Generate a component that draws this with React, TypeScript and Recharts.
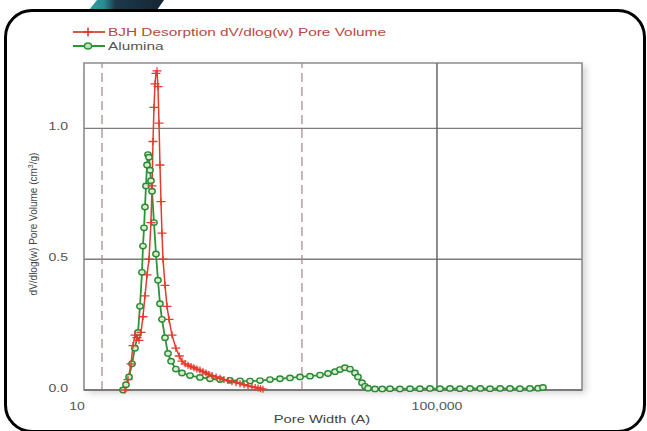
import { LineChart, Line, XAxis, YAxis, ReferenceLine, ReferenceArea } from "recharts";

// pore width (A) and dV/dlog(w) pore volume (cm3/g)
const bjhWidth = [
    29.2, 31.5, 34.1, 35.9, 37.8, 39.9, 42.0, 44.2, 46.6, 49.1, 51.8, 54.5, 57.4, 59.0, 60.5,
    62.1, 63.8, 65.4, 67.2, 68.9, 70.8, 72.6, 74.6, 76.5, 78.6, 82.8, 87.2, 91.9, 99.4, 110,
    120, 129, 140, 151, 163, 176, 190, 206, 223, 241, 260, 282, 314, 348, 385, 428, 475, 528,
    586, 650, 722, 801, 870, 937, 1000, 1067
];
const bjhVolume = [
    0, 0.04, 0.1, 0.17, 0.21, 0.2, 0.19, 0.22, 0.28, 0.36, 0.44, 0.5, 0.64, 0.78, 0.95,
    1.08, 1.17, 1.21, 1.22, 1.16, 1.02, 0.86, 0.72, 0.6, 0.5, 0.4, 0.32, 0.27, 0.21, 0.16,
    0.13, 0.11, 0.1, 0.095, 0.09, 0.085, 0.08, 0.076, 0.07, 0.065, 0.06, 0.055, 0.05, 0.045,
    0.04, 0.036, 0.032, 0.028, 0.024, 0.02, 0.016, 0.013, 0.01, 0.008, 0.005, 0.003
];

const aluminaWidth = [
    27.7, 29.9, 32.4, 35.0, 37.8, 40.9, 43.1, 45.4, 46.6, 47.9, 49.1, 50.4, 51.8, 53.1, 54.5,
    56.0, 57.4, 59.0, 62.1, 65.4, 68.9, 72.6, 76.5, 82.8, 89.5, 97.0, 110, 129, 159, 206,
    268, 348, 451, 586, 760, 987, 1281, 1663, 2160, 2803, 3638, 4723, 5823, 6988, 7960,
    9070, 10330, 11770, 12730, 14130, 15280, 16530, 19840, 24000, 29340, 38000, 49440, 64000, 83300, 108000,
    140400, 182000, 236600, 310000, 398700, 520000, 671900, 870000, 1130000, 1400000, 1589000
];
const aluminaVolume = [
    0, 0.02, 0.05, 0.1, 0.16, 0.22, 0.32, 0.45, 0.55, 0.62, 0.7, 0.78, 0.86, 0.9, 0.89,
    0.84, 0.8, 0.76, 0.64, 0.52, 0.42, 0.33, 0.27, 0.2, 0.14, 0.11, 0.08, 0.065, 0.055, 0.048,
    0.043, 0.04, 0.037, 0.035, 0.034, 0.036, 0.04, 0.043, 0.046, 0.05, 0.053, 0.057, 0.063, 0.07, 0.078,
    0.085, 0.08, 0.065, 0.05, 0.028, 0.014, 0.007, 0.004, 0.004, 0.005, 0.004, 0.005, 0.005, 0.006, 0.005,
    0.006, 0.005, 0.006, 0.006, 0.005, 0.006, 0.006, 0.005, 0.006, 0.007, 0.01
];

const xTicks = [10, 100000];
const yTicks = [0, 0.5, 1.0];
const dashedWidths = [16, 2950];
const solidWidths = [100000];
const yGrid = [0.5, 1.0];

const X_DOMAIN = [10, 4400000];
const Y_DOMAIN = [0, 1.25];

const RED = "#e53b2e";
const GREEN = "#2e9438";
const FONT = "'Liberation Sans', Arial, sans-serif";
const STRETCH = 1.28;

const bjhData = bjhWidth.map((x, i) => ({ x, y: bjhVolume[i] }));
const aluminaData = aluminaWidth.map((x, i) => ({ x, y: aluminaVolume[i] }));

function CrossDot(props: any) {
    const { cx, cy, index } = props;
    if (cx == null || cy == null) return <g key={index} />;
    return (
        <path
            key={index}
            d={`M${cx - 4.5},${cy}h9M${cx},${cy - 3.5}v7`}
            stroke={RED}
            strokeWidth={1.3}
            fill="none"
        />
    );
}

function CircleDot(props: any) {
    const { cx, cy, index } = props;
    if (cx == null || cy == null) return <g key={index} />;
    return (
        <ellipse
            key={index}
            cx={cx}
            cy={cy}
            rx={3.2}
            ry={2.7}
            stroke="#2a8a34"
            strokeWidth={1.4}
            fill="#d8ecd2"
        />
    );
}

function XTick({ x, y, payload }: any) {
    const label = payload.value === 10 ? "10" : payload.value.toLocaleString("en-US");
    const dx = payload.value === 10 ? -7 : 0;
    return (
        <text
            transform={`translate(${x + dx},${y + 18}) scale(${STRETCH},1)`}
            textAnchor="middle"
            fontFamily={FONT}
            fontSize={11}
            fill="#555"
        >
            {label}
        </text>
    );
}

function YTick({ x, y, payload }: any) {
    return (
        <text
            transform={`translate(${x - 14},${y + 2}) scale(${STRETCH},1)`}
            textAnchor="end"
            fontFamily={FONT}
            fontSize={11}
            fill="#555"
        >
            {Number(payload.value).toFixed(1)}
        </text>
    );
}

export default function App() {
    return (
        <div style={{ position: "absolute", left: 0, top: 0, width: 647, height: 431, background: "#fff", overflow: "hidden" }}>
            {/* tab graphic peeking above the frame */}
            <svg width={647} height={20} style={{ position: "absolute", left: 0, top: 0 }}>
                <defs>
                    <linearGradient id="tab" x1="0" x2="1" y1="0" y2="0">
                        <stop offset="0" stopColor="#2e9ea4" />
                        <stop offset="0.2" stopColor="#2a8a92" />
                        <stop offset="0.35" stopColor="#1c3a4a" />
                        <stop offset="1" stopColor="#162534" />
                    </linearGradient>
                </defs>
                <polygon points="89,10 97,0 164,0 157,10" fill="url(#tab)" />
            </svg>

            <div style={{
                position: "absolute",
                left: 4,
                top: 9,
                width: 642,
                height: 424,
                boxSizing: "border-box",
                border: "3px solid #000",
                borderRadius: 28
            }} />

            {/* soft shadow behind plot area */}
            <div style={{
                position: "absolute",
                left: 84,
                top: 63,
                width: 498,
                height: 327,
                boxShadow: "4px 3px 7px rgba(0,0,0,0.18)",
                background: "#fff"
            }} />

            <div style={{ position: "absolute", left: 0, top: 0 }}>
                <LineChart width={647} height={431} margin={{ top: 63, right: 65, bottom: 11, left: 44 }}>
                    <XAxis
                        dataKey="x"
                        type="number"
                        scale="log"
                        domain={X_DOMAIN}
                        allowDataOverflow
                        ticks={xTicks}
                        tick={<XTick />}
                        tickLine={false}
                        tickSize={0}
                        axisLine={{ stroke: "#7a7a7a", strokeWidth: 2 }}
                        height={30}
                        allowDuplicatedCategory={false}
                    />
                    <YAxis
                        dataKey="y"
                        type="number"
                        domain={Y_DOMAIN}
                        ticks={yTicks}
                        tick={<YTick />}
                        tickLine={false}
                        tickSize={0}
                        axisLine={false}
                        width={40}
                    />
                    <ReferenceArea
                        x1={X_DOMAIN[0]}
                        x2={X_DOMAIN[1]}
                        y1={Y_DOMAIN[0]}
                        y2={Y_DOMAIN[1]}
                        fill="none"
                        stroke="#8c8c8c"
                        strokeWidth={1.6}
                    />
                    {yGrid.map((v) => (
                        <ReferenceLine key={`h${v}`} y={v} stroke="#7d7d7d" strokeWidth={1.4} />
                    ))}
                    {dashedWidths.map((v) => (
                        <ReferenceLine key={`d${v}`} x={v} stroke="#a88484" strokeWidth={1.2} strokeDasharray="9 5" />
                    ))}
                    {solidWidths.map((v) => (
                        <ReferenceLine key={`s${v}`} x={v} stroke="#666" strokeWidth={1.5} />
                    ))}
                    <Line
                        data={aluminaData}
                        dataKey="y"
                        type="linear"
                        stroke={GREEN}
                        strokeWidth={1.8}
                        dot={<CircleDot />}
                        isAnimationActive={false}
                    />
                    <Line
                        data={bjhData}
                        dataKey="y"
                        type="linear"
                        stroke={RED}
                        strokeWidth={1.5}
                        dot={<CrossDot />}
                        isAnimationActive={false}
                    />
                </LineChart>
            </div>

            {/* legend and axis titles */}
            <svg width={647} height={431} style={{ position: "absolute", left: 0, top: 0, pointerEvents: "none" }}>
                <g>
                    <line x1={73} x2={105} y1={32} y2={32} stroke="#d9564a" strokeWidth={2} />
                    <path d="M84,32h8M88,27.5v9" stroke={RED} strokeWidth={1.6} />
                    <text transform="translate(108,36) scale(1.34,1)" fontFamily={FONT} fontSize={11.5} fill="#b8493f">
                        BJH Desorption dV/dlog(w) Pore Volume
                    </text>
                    <line x1={73} x2={105} y1={46} y2={46} stroke={GREEN} strokeWidth={2} />
                    <ellipse cx={88} cy={46} rx={3.6} ry={3} stroke={GREEN} strokeWidth={1.5} fill="#bfe0b8" />
                    <text transform="translate(108,50) scale(1.34,1)" fontFamily={FONT} fontSize={11.5} fill="#555">
                        Alumina
                    </text>
                </g>
                <text
                    transform={`translate(322,423) scale(${STRETCH},1)`}
                    textAnchor="middle"
                    fontFamily={FONT}
                    fontSize={11.5}
                    fill="#444"
                >
                    Pore Width (A)
                </text>
                <text
                    transform="translate(37,224) rotate(-90)"
                    textAnchor="middle"
                    fontFamily={FONT}
                    fontSize={10}
                    fill="#444"
                >
                    dV/dlog(w) Pore Volume (cm<tspan dy={-4} fontSize={7}>3</tspan><tspan dy={4}>/g)</tspan>
                </text>
            </svg>
        </div>
    );
}
